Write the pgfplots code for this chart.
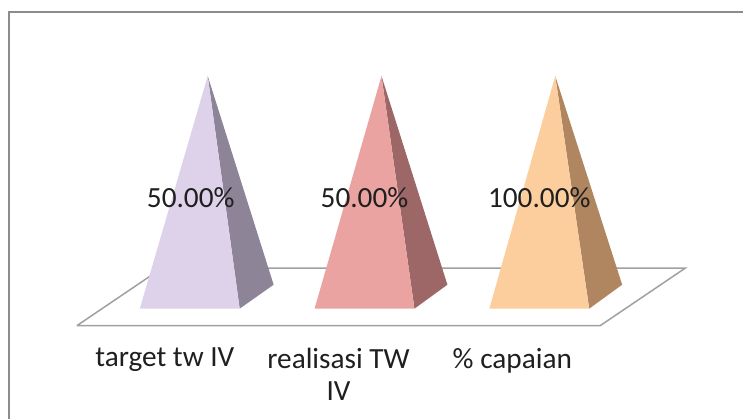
\documentclass[border=0pt]{standalone}
\usepackage{fontspec}
\setmainfont{Carlito}
\usepackage{pgfplots}
\pgfplotsset{compat=1.18}
\definecolor{framegray}{HTML}{8C8C8C}
\definecolor{floorgray}{HTML}{A0A0A0}
\definecolor{txt}{HTML}{1F1F1F}
\definecolor{lavA}{HTML}{DDD2EA}
\definecolor{lavB}{HTML}{8E8498}
\definecolor{pinkA}{HTML}{EAA3A1}
\definecolor{pinkB}{HTML}{9C6766}
\definecolor{orA}{HTML}{FDCE9D}
\definecolor{orB}{HTML}{B08660}
\begin{document}
\begin{tikzpicture}
	\begin{axis}[
		scale only axis,
		width=744pt, height=419pt,
		xmin=0, xmax=744, ymin=0, ymax=419,
		axis line style={draw=none},
		ytick=\empty,
		xtick={165,339,513},
		xticklabels={target tw IV,realisasi TW\\IV,\% capaian},
		major tick length=0pt,
		x tick label style={font=\fontsize{29.3}{32}\selectfont, text=txt, align=center, anchor=north, yshift=74pt},
		clip=false,
		]
		% chart frame
		\addplot[framegray, line width=2pt] coordinates {(9,0) (9,407) (744,407)};
		% floor
		\addplot[floorgray, line width=1.5pt, fill=white] coordinates {(77,93) (601,93) (686,150.5) (162,150.5) (77,93)};
		% target tw IV
		\addplot[draw=none, fill=lavB] coordinates {(208,343) (240,110) (274,134)};
		\addplot[draw=none, fill=lavA] coordinates {(208,343) (140,110) (240,110)};
		% realisasi TW IV
		\addplot[draw=none, fill=pinkB] coordinates {(382,343) (415,110) (448,134)};
		\addplot[draw=none, fill=pinkA] coordinates {(382,343) (315,110) (415,110)};
		% % capaian
		\addplot[draw=none, fill=orB] coordinates {(556,343) (590,110) (623,134)};
		\addplot[draw=none, fill=orA] coordinates {(556,343) (490,110) (590,110)};
		% data labels
		\addplot[only marks, mark=none, point meta=explicit symbolic,
			nodes near coords, nodes near coords align={anchor=center},
			every node near coord/.append style={font=\fontsize{29.3}{32}\selectfont, text=txt}]
			coordinates {(191,221) [50.00\%] (365,221) [50.00\%] (540,221) [100.00\%]};
	\end{axis}
\end{tikzpicture}
\end{document}
